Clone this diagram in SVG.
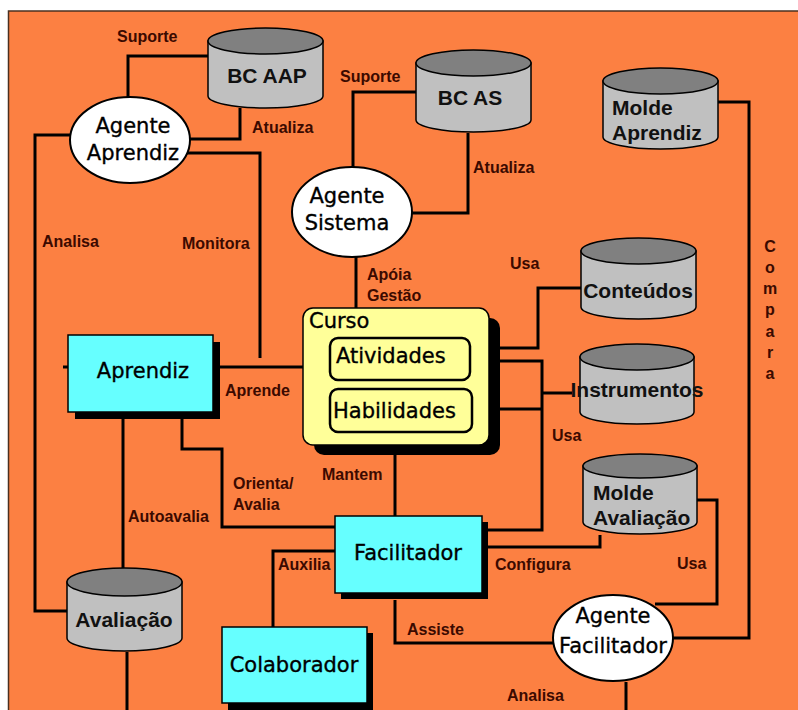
<svg xmlns="http://www.w3.org/2000/svg" width="798" height="710" viewBox="0 0 798 710">
<style>
.lbl{font-family:"Liberation Sans",Arial,sans-serif;font-weight:bold;font-size:16px;fill:#3b0a00}
.nt{font-family:"DejaVu Sans",Verdana,sans-serif;font-size:21px;fill:#000;stroke:#000;stroke-width:0.35}
.ct{font-family:"Liberation Sans",Arial,sans-serif;font-weight:bold;font-size:21px;fill:#111}
.c{stroke:#000;stroke-width:3;fill:none}
.body{fill:#c0c0c0;stroke:#000;stroke-width:1.5}
.top{fill:#808080;stroke:#000;stroke-width:1.5}
.ell{fill:#fff;stroke:#000;stroke-width:2}
.box{fill:#66ffff;stroke:#000;stroke-width:1.5}
.sh{fill:#000}
.inner{fill:#ffff99;stroke:#000;stroke-width:2.5}
</style>
<rect x="0" y="0" width="798" height="710" fill="#fff"/>
<rect x="8.5" y="11" width="800" height="710" fill="#fc8042" stroke="#4a3020" stroke-width="1.5"/>

<g id="connectors">
<polyline class="c" points="128,97 128,56 208,56"/>
<polyline class="c" points="189,139 240,139 240,108"/>
<polyline class="c" points="187,153 260,153 260,358"/>
<polyline class="c" points="70,135 35,135 35,611 67,611"/>
<polyline class="c" points="353,168 353,92 416,92"/>
<polyline class="c" points="468,133 468,213 411,213"/>
<polyline class="c" points="356,257 356,308"/>
<polyline class="c" points="63,367 68,367"/>
<polyline class="c" points="213,367 303,367"/>
<polyline class="c" points="123,417 123,568"/>
<polyline class="c" points="182,417 182,449 222,449 222,527 335,527"/>
<polyline class="c" points="470,348 538,348 538,288 581,288"/>
<polyline class="c" points="470,361 542,361 542,530 488,530"/>
<polyline class="c" points="542,393 572,393"/>
<polyline class="c" points="472,409 542,409"/>
<polyline class="c" points="395,455 395,516"/>
<polyline class="c" points="335,551 273,551 273,627"/>
<polyline class="c" points="488,547 600,547 600,535"/>
<polyline class="c" points="697,500 717,500 717,604 655,604"/>
<polyline class="c" points="718,102 749,102 749,638 672,638"/>
<polyline class="c" points="395,600 395,643 555,643"/>
<polyline class="c" points="127,652 127,710"/>
<polyline class="c" points="626,682 626,710"/>
</g>

<g id="labels">
<text class="lbl" x="117" y="42">Suporte</text>
<text class="lbl" x="340" y="82">Suporte</text>
<text class="lbl" x="252" y="133">Atualiza</text>
<text class="lbl" x="473" y="173">Atualiza</text>
<text class="lbl" x="42" y="247">Analisa</text>
<text class="lbl" x="182" y="249">Monitora</text>
<text class="lbl" x="367" y="280">Apóia</text>
<text class="lbl" x="367" y="301">Gestão</text>
<text class="lbl" x="510" y="269">Usa</text>
<text class="lbl" x="225" y="396">Aprende</text>
<text class="lbl" x="552" y="441">Usa</text>
<text class="lbl" x="322" y="480">Mantem</text>
<text class="lbl" x="233" y="489">Orienta/</text>
<text class="lbl" x="233" y="510">Avalia</text>
<text class="lbl" x="128" y="522">Autoavalia</text>
<text class="lbl" x="278" y="570">Auxilia</text>
<text class="lbl" x="495" y="570">Configura</text>
<text class="lbl" x="677" y="569">Usa</text>
<text class="lbl" x="407" y="635">Assiste</text>
<text class="lbl" x="507" y="701">Analisa</text>
<text class="lbl" text-anchor="middle"><tspan x="770" y="252">C</tspan><tspan x="770" y="273">o</tspan><tspan x="770" y="294">m</tspan><tspan x="770" y="315">p</tspan><tspan x="770" y="337">a</tspan><tspan x="770" y="358">r</tspan><tspan x="770" y="379">a</tspan></text>
</g>

<g id="bc-aap">
<path class="body" d="M208,41 L208,96 A57.5,12 0 0 0 323,96 L323,41 Z"/>
<ellipse class="top" cx="265.5" cy="41" rx="57.5" ry="13"/>
<text class="ct" x="267" y="83" text-anchor="middle">BC AAP</text>
</g>
<g id="bc-as">
<path class="body" d="M416,63 L416,120 A57.5,12 0 0 0 531,120 L531,63 Z"/>
<ellipse class="top" cx="473.5" cy="63" rx="57.5" ry="13"/>
<text class="ct" x="470" y="105" text-anchor="middle">BC AS</text>
</g>
<g id="molde-aprendiz">
<path class="body" d="M603,81 L603,137 A57.5,12 0 0 0 718,137 L718,81 Z"/>
<ellipse class="top" cx="660.5" cy="81" rx="57.5" ry="13"/>
<text class="ct" x="612" y="115">Molde</text>
<text class="ct" x="612" y="140">Aprendiz</text>
</g>
<g id="conteudos">
<path class="body" d="M581,251 L581,307 A57.5,12 0 0 0 696,307 L696,251 Z"/>
<ellipse class="top" cx="638.5" cy="251" rx="57.5" ry="13"/>
<text class="ct" x="638" y="298" text-anchor="middle">Conteúdos</text>
</g>
<g id="instrumentos">
<path class="body" d="M580,357 L580,412 A57,12 0 0 0 694,412 L694,357 Z"/>
<ellipse class="top" cx="637" cy="357" rx="57" ry="13"/>
<text class="ct" x="637" y="397" text-anchor="middle">Instrumentos</text>
</g>
<g id="molde-avaliacao">
<path class="body" d="M583,466 L583,522 A57,12 0 0 0 697,522 L697,466 Z"/>
<ellipse class="top" cx="640" cy="466" rx="57" ry="12"/>
<text class="ct" x="593" y="500">Molde</text>
<text class="ct" x="593" y="525">Avaliação</text>
</g>
<g id="avaliacao">
<path class="body" d="M67,582 L67,638 A57.5,13 0 0 0 182,638 L182,582 Z"/>
<ellipse class="top" cx="124.5" cy="582" rx="57.5" ry="14"/>
<text class="ct" x="124" y="627" text-anchor="middle">Avaliação</text>
</g>

<g id="agente-aprendiz">
<ellipse class="ell" cx="130" cy="140" rx="60" ry="43"/>
<text class="nt" x="133" y="133" text-anchor="middle">Agente</text>
<text class="nt" x="133" y="160" text-anchor="middle">Aprendiz</text>
</g>
<g id="agente-sistema">
<ellipse class="ell" cx="352" cy="212" rx="60" ry="45"/>
<text class="nt" x="347" y="203" text-anchor="middle">Agente</text>
<text class="nt" x="347" y="230" text-anchor="middle">Sistema</text>
</g>
<g id="agente-facilitador">
<ellipse class="ell" cx="613" cy="638" rx="60" ry="43"/>
<text class="nt" x="613" y="623" text-anchor="middle">Agente</text>
<text class="nt" x="613" y="653" text-anchor="middle">Facilitador</text>
</g>

<g id="aprendiz">
<rect class="sh" x="75" y="342" width="145" height="77"/>
<rect class="box" x="68" y="335" width="145" height="77"/>
<text class="nt" x="143" y="378" text-anchor="middle">Aprendiz</text>
</g>
<g id="facilitador">
<rect class="sh" x="341" y="522" width="147" height="77"/>
<rect class="box" x="335" y="516" width="147" height="77"/>
<text class="nt" x="408" y="560" text-anchor="middle">Facilitador</text>
</g>
<g id="colaborador">
<rect class="sh" x="228" y="633" width="145" height="80"/>
<rect class="box" x="222" y="627" width="145" height="76"/>
<text class="nt" x="294" y="672" text-anchor="middle">Colaborador</text>
</g>

<g id="curso">
<rect class="sh" x="314" y="318" width="186" height="137" rx="10"/>
<rect x="303" y="308" width="186" height="137" rx="10" fill="#ffff99" stroke="#000" stroke-width="1.5"/>
<text class="nt" x="309" y="328">Curso</text>
<g id="atividades">
<rect class="inner" x="330" y="338" width="140" height="42" rx="8"/>
<text class="nt" x="336" y="363">Atividades</text>
</g>
<g id="habilidades">
<rect class="inner" x="330" y="389" width="142" height="43" rx="8"/>
<text class="nt" x="333" y="418">Habilidades</text>
</g>
</g>
</svg>
